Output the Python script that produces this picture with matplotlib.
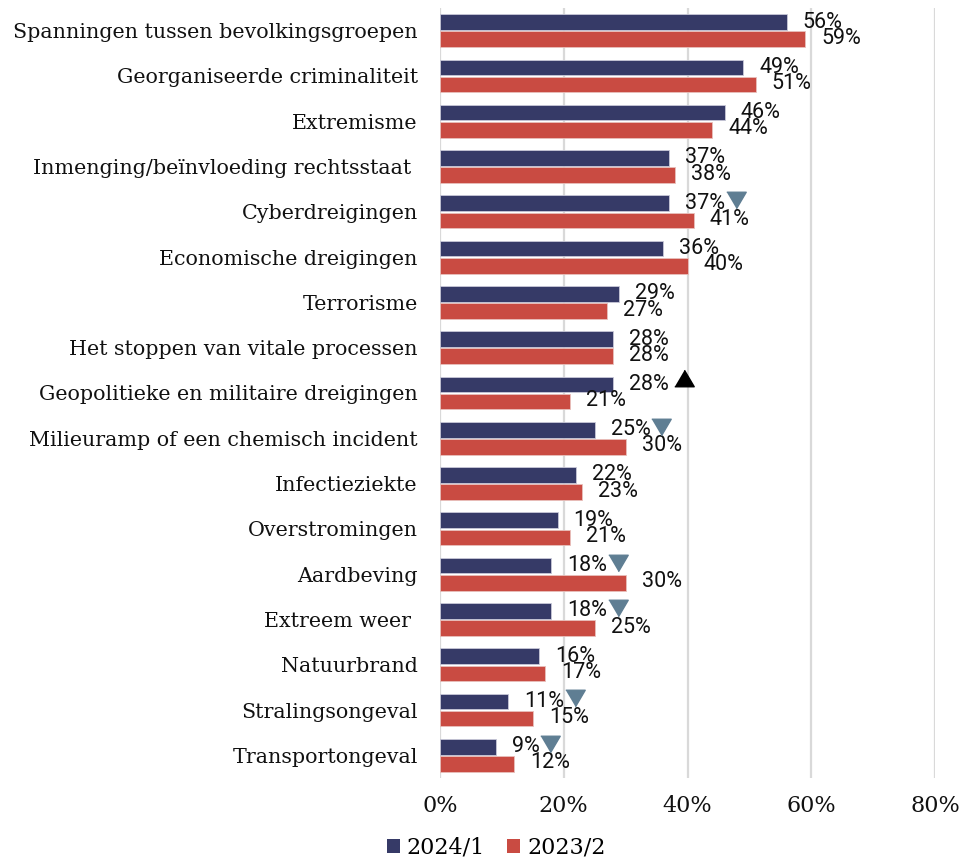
import matplotlib
matplotlib.use('Agg')
import matplotlib.pyplot as plt
import numpy as np
from matplotlib.patches import Patch

categories = [
    "Spanningen tussen bevolkingsgroepen",
    "Georganiseerde criminaliteit",
    "Extremisme",
    "Inmenging/beïnvloeding rechtsstaat ",
    "Cyberdreigingen",
    "Economische dreigingen",
    "Terrorisme",
    "Het stoppen van vitale processen",
    "Geopolitieke en militaire dreigingen",
    "Milieuramp of een chemisch incident",
    "Infectieziekte",
    "Overstromingen",
    "Aardbeving",
    "Extreem weer ",
    "Natuurbrand",
    "Stralingsongeval",
    "Transportongeval",
]
v2024 = [56, 49, 46, 37, 37, 36, 29, 28, 28, 25, 22, 19, 18, 18, 16, 11, 9]
v2023 = [59, 51, 44, 38, 41, 40, 27, 28, 21, 30, 23, 21, 30, 25, 17, 15, 12]
trend = ["", "", "", "", "down", "", "", "", "up", "down", "", "", "down", "down", "", "down", "down"]
series_names = ["2024/1", "2023/2"]
xticks = [0, 20, 40, 60, 80]
xtick_labels = ["0%", "20%", "40%", "60%", "80%"]

NAVY = "#363a67"
RED = "#c94b42"
TRI = "#5f7e93"
GRID = "#d9d9d9"
SERIF = "DejaVu Serif"
SANS = "Roboto"

W, H = 966, 860
fig = plt.figure(figsize=(W / 100, H / 100), dpi=100)
ax = fig.add_axes([440 / W, 82 / H, (935 - 440) / W, 770 / H])

y = np.arange(len(categories))
h = 0.345
off = 0.19
ax.barh(y - off, v2024, height=h, color=NAVY, edgecolor="#c8c8d8", linewidth=0.6, zorder=2)
ax.barh(y + off, v2023, height=h, color=RED, edgecolor="#e8c0bc", linewidth=0.6, zorder=2)

ax.set_xlim(0, 80)
ax.set_ylim(len(categories) - 0.5, -0.5)
ax.set_xticks(xticks)
ax.set_xticklabels(xtick_labels, fontfamily=SERIF, fontsize=16, color="#111111")
ax.set_yticks(y)
ax.set_yticklabels(categories, fontfamily=SERIF, fontsize=14.9, color="#111111")
ax.tick_params(axis="both", length=0)
ax.tick_params(axis="y", pad=16)
ax.tick_params(axis="x", pad=12)
for s in ax.spines.values():
    s.set_visible(False)
ax.grid(axis="x", color=GRID, linewidth=1.6, zorder=0)
ax.set_axisbelow(True)

labels2024 = []
for yi, v in zip(y, v2024):
    t = ax.annotate(f"{v}%", xy=(v, yi - off), xytext=(16, 0), textcoords="offset pixels",
                    va="center", ha="left", fontsize=15.5, fontfamily=SANS, color="#111111", zorder=3)
    labels2024.append(t)
for yi, v in zip(y, v2023):
    ax.annotate(f"{v}%", xy=(v, yi + off), xytext=(16, 1), textcoords="offset pixels",
                va="center", ha="left", fontsize=15.5, fontfamily=SANS, color="#111111", zorder=3)

fig.canvas.draw()
renderer = fig.canvas.get_renderer()
inv = ax.transData.inverted()
down_marker = [(-1, 0.85), (1, 0.85), (0, -0.85)]
up_marker = [(-1, -0.85), (1, -0.85), (0, 0.85)]
for yi, tr, t in zip(y, trend, labels2024):
    if not tr:
        continue
    bb = t.get_window_extent(renderer)
    cy_disp = ax.transData.transform((0, yi - off))[1]
    if tr == "down":
        px, py = bb.x1 + 11, cy_disp + 3
        mk, col = down_marker, TRI
    else:
        px, py = bb.x1 + 15, cy_disp + 6
        mk, col = up_marker, "black"
    dx, dy = inv.transform((px, py))
    ax.plot([dx], [dy], marker=mk, markersize=14, color=col, linestyle="none",
            zorder=4, clip_on=False)

handles = [Patch(facecolor=NAVY, edgecolor="none"), Patch(facecolor=RED, edgecolor="none")]
fig.legend(handles, series_names, loc="center", bbox_to_anchor=(496 / W, 1 - 848 / H), ncol=2,
           frameon=False, prop={"family": SERIF, "size": 16}, handlelength=0.6, handleheight=0.6,
           handletextpad=0.3, columnspacing=1.0, borderpad=0, borderaxespad=0)

fig.savefig("out.png", dpi=100)
